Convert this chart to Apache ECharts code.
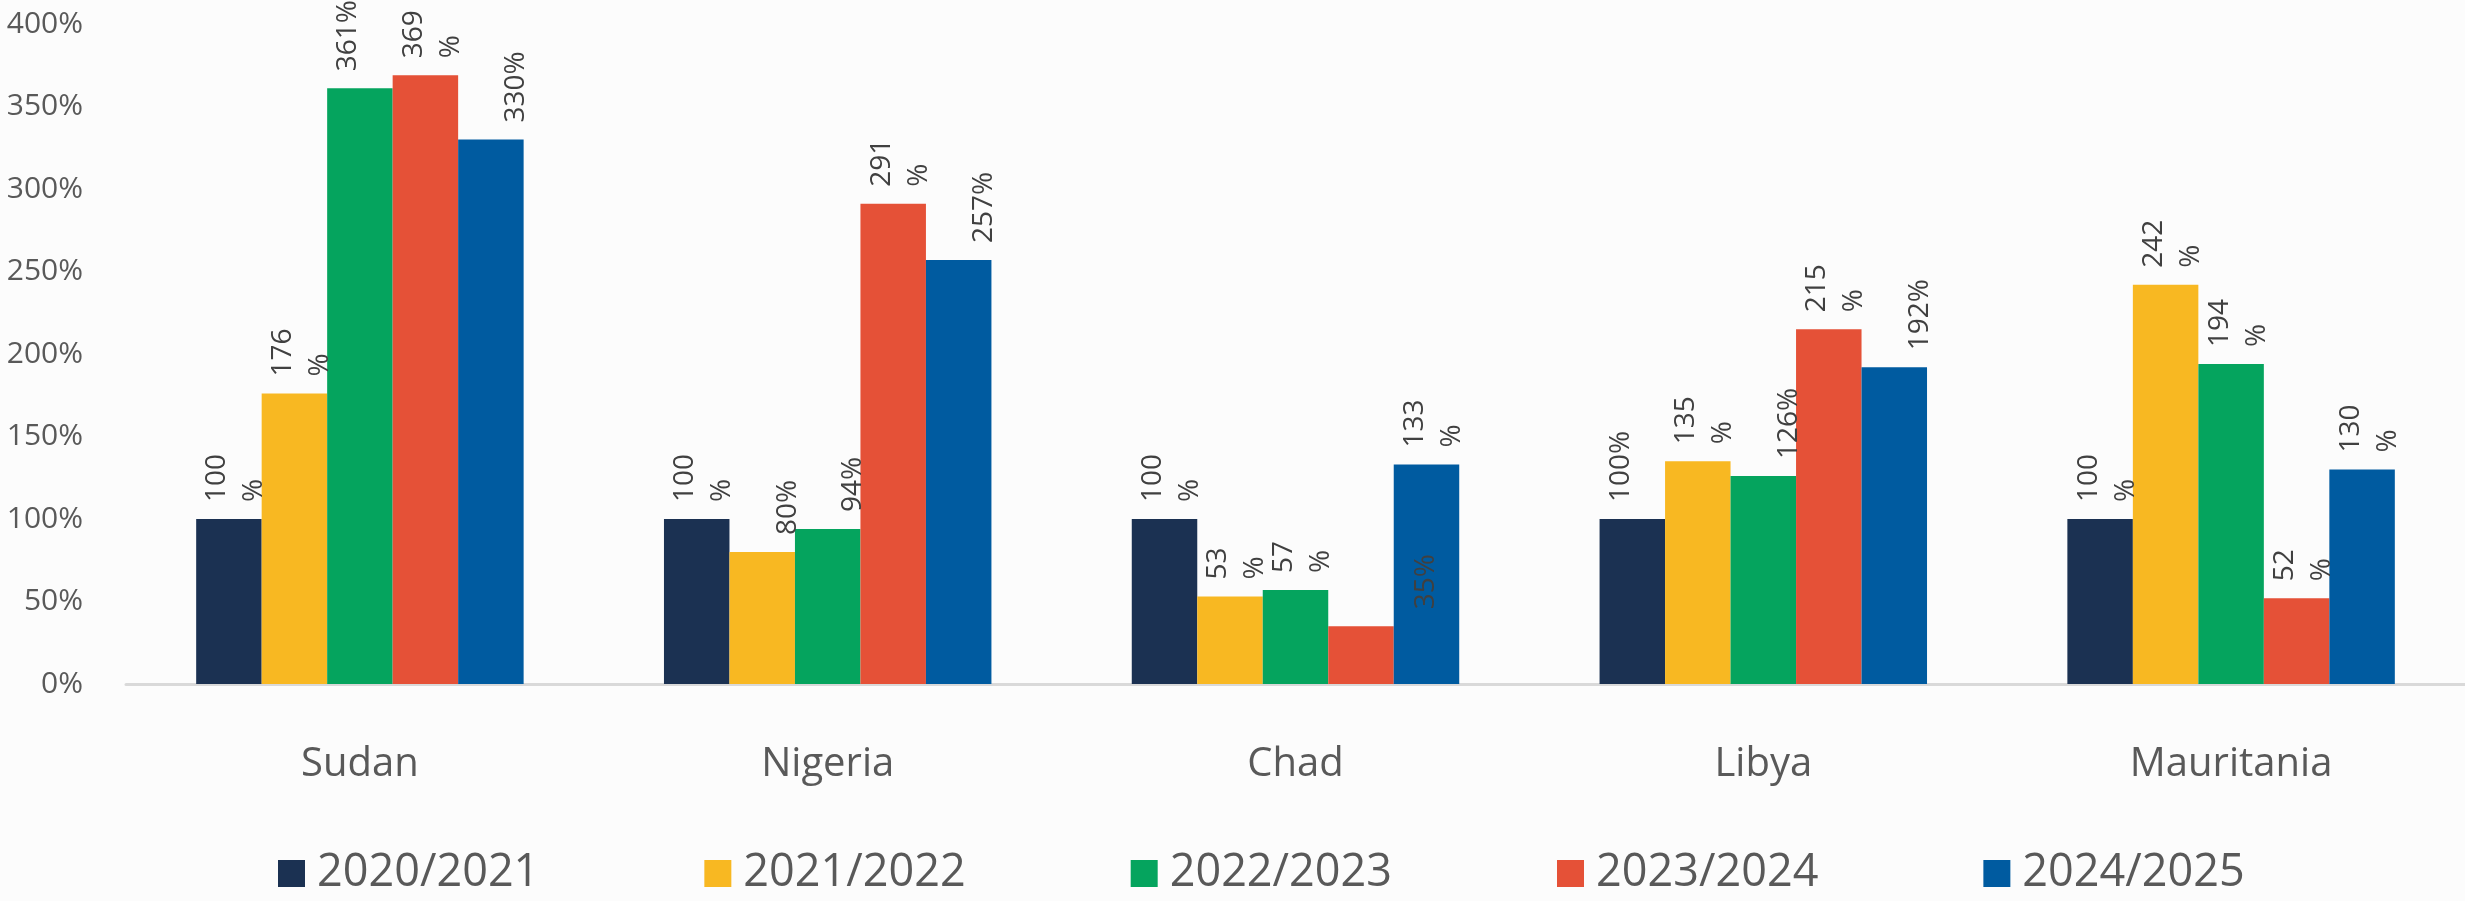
<!DOCTYPE html>
<html>
<head>
<meta charset="utf-8">
<title>Sudan Nigeria Chad Libya Mauritania</title>
<script src="https://cdn.jsdelivr.net/npm/echarts@6/dist/echarts.min.js"></script>
<style>
  html, body { margin: 0; padding: 0; background: #fff; }
  #main { width: 2465px; height: 901px; }
</style>
</head>
<body>
<div id="main"></div>
<script>
// categories and seasons
var countries = ['Sudan', 'Nigeria', 'Chad', 'Libya', 'Mauritania'];
var seasons = ['2020/2021', '2021/2022', '2022/2023', '2023/2024', '2024/2025'];

// values (% of 2020/2021)
var v2020 = [100, 100, 100, 100, 100];
var v2021 = [176, 80, 53, 135, 242];
var v2022 = [361, 94, 57, 126, 194];
var v2023 = [369, 291, 35, 215, 52];
var v2024 = [330, 257, 133, 192, 130];

// label text as printed on the chart (wrapped like the original, empty line = unused slot)
var t2020 = ['100\n%', '100\n%', '100\n%', '100%\n', '100\n%'];
var t2021 = ['176\n%', '\n80%', '53\n%', '135\n%', '242\n%'];
var t2022 = ['361%\n', '\n94%', '57\n%', '\n126%', '194\n%'];
var t2023 = ['369\n%', '291\n%', '35%', '215\n%', '52\n%'];
var t2024 = ['\n330%', '\n257%', '133\n%', '\n192%', '130\n%'];

var yMin = 0, yMax = 400, yStep = 50;

var colors = ['#1b3152', '#f8b822', '#05a45e', '#e55137', '#005ba0'];
var font = "'Open Sans', sans-serif";

var values = [v2020, v2021, v2022, v2023, v2024];
var texts = [t2020, t2021, t2022, t2023, t2024];

var series = seasons.map(function (name, i) {
    return {
        name: name,
        type: 'bar',
        barGap: 0,
        barCategoryGap: '30%',
        itemStyle: { color: colors[i] },
        label: {
            show: true,
            position: 'top',
            rotate: 90,
            align: 'left',
            verticalAlign: 'middle',
            distance: 17,
            offset: [0, 7],
            fontSize: 28,
            lineHeight: 37,
            color: '#404040',
            fontFamily: font,
            formatter: function (p) { return texts[i][p.dataIndex]; }
        },
        data: values[i].map(function (v, j) {
            var d = { value: v };
            // the 35% label of Chad sits over the next bar in the original
            if (i === 3 && j === 2) d.label = { offset: [0, 65] };
            return d;
        })
    };
});

var chart = echarts.init(document.getElementById('main'));
chart.setOption({
    backgroundColor: '#fcfcfc',
    animation: false,
    grid: { left: 126, right: 0, top: 24, bottom: 217 },
    legend: {
        data: seasons,
        left: 278,
        top: 851,
        padding: 0,
        icon: 'rect',
        itemWidth: 27,
        itemHeight: 27,
        itemGap: 165,
        textStyle: { fontSize: 45, color: '#595959', fontFamily: font, padding: [0, 0, 0, 7] }
    },
    xAxis: {
        type: 'category',
        data: countries,
        axisLine: { lineStyle: { color: '#d9d9d9', width: 3 } },
        axisTick: { show: false },
        axisLabel: { fontSize: 40, color: '#595959', fontFamily: font, margin: 61 }
    },
    yAxis: {
        type: 'value',
        min: yMin,
        max: yMax,
        interval: yStep,
        axisLine: { show: false },
        axisTick: { show: false },
        splitLine: { show: false },
        axisLabel: { fontSize: 30, color: '#595959', fontFamily: font, margin: 43, formatter: '{value}%' }
    },
    series: series
});
</script>
</body>
</html>
